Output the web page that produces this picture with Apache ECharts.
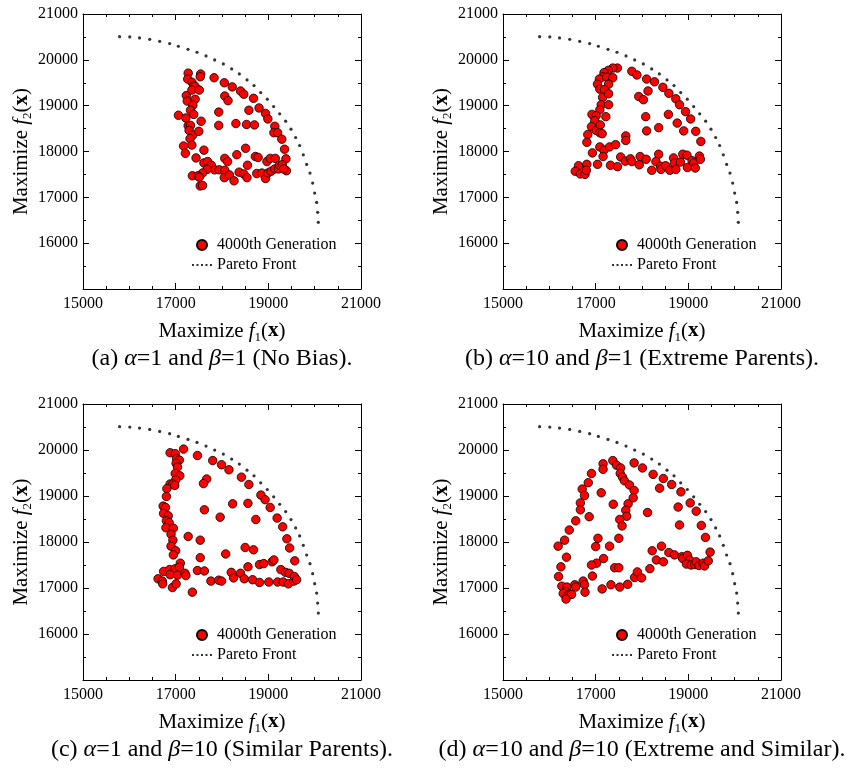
<!DOCTYPE html>
<html>
<head>
<meta charset="utf-8">
<script src="https://cdn.jsdelivr.net/npm/echarts@6/dist/echarts.min.js"></script>
<style>
  html, body { margin: 0; padding: 0; background: #fff; }
  #chart { width: 863px; height: 770px; }
</style>
</head>
<body>
<div id="chart"></div>
<script type="text/javascript">
// Pareto front (same in all four panels)
var paretoFront = [
  [15790,20506],[16010,20499],[16220,20477],[16440,20448],[16655,20404],[16870,20354],
  [17058,20296],[17266,20230],[17460,20165],[17655,20085],[17842,19998],[18029,19911],
  [18209,19802],[18374,19693],[18540,19562],[18691,19439],[18835,19286],[18978,19141],
  [19115,18981],[19245,18821],[19374,18662],[19489,18487],[19590,18306],[19676,18131],
  [19755,17928],[19827,17717],[19899,17529],[19957,17311],[20000,17093],[20043,16890],
  [20065,16672],[20079,16454]
];

// (a) alpha=1, beta=1
var genA = [
  [17270,19710],[17540,19690],[17530,19630],[17260,19580],[17350,19510],[17390,19440],[17420,19420],
  [17830,19610],[18050,19500],[18220,19410],[18400,19320],[18470,19250],[18680,19160],[18060,19210],
  [18130,19110],[17230,19220],[17250,19100],[17420,19140],[17370,19010],[17350,19340],[17510,19340],
  [17320,18900],[17060,18790],[17220,18730],[17390,18810],[17550,18660],[17930,18860],[18580,18900],
  [18800,18950],[18940,18830],[18990,18710],[17270,18560],[17320,18570],[17290,18460],[17370,18360],
  [17500,18440],[17930,18570],[18300,18610],[18530,18590],[18700,18580],[19140,18550],[19120,18410],
  [19200,18410],[19290,18270],[17310,18280],[17350,18140],[17170,18120],[17210,17960],[17610,18030],
  [17440,17860],[18320,17930],[18510,18070],[18550,17700],[18060,17850],[18120,17780],[18720,17890],
  [18780,17870],[18970,17780],[19040,17850],[19150,17850],[19350,18050],[19380,17840],[17610,17750],
  [17690,17780],[17770,17700],[17840,17600],[17680,17610],[17580,17530],[17940,17600],[18060,17590],
  [17360,17470],[17480,17470],[17510,17440],[18050,17430],[18160,17490],[18260,17360],[18370,17550],
  [18470,17510],[18540,17430],[18750,17520],[18860,17530],[18940,17410],[18990,17530],[19060,17570],
  [19140,17620],[19220,17620],[19240,17700],[19300,17710],[19390,17580],[19330,17620],[17530,17250],
  [17580,17260]
];

// (b) alpha=10, beta=1
var genB = [
  [17470,19820],[17370,19820],[17270,19770],[17250,19690],[17180,19720],[17160,19630],[17080,19580],
  [17040,19470],[17240,19620],[17370,19610],[17280,19470],[17090,19360],[17190,19350],[17150,19180],
  [17280,19260],[17120,19020],[17280,19020],[17090,18910],[17220,18760],[16920,18810],[17010,18780],
  [16980,18670],[16910,18540],[17010,18460],[17100,18580],[17090,18410],[17140,18390],[16830,18370],
  [16810,18200],[17090,18100],[17180,18030],[16930,17970],[17160,17890],[17300,18100],[17430,18150],
  [17650,18340],[17650,18240],[17780,19750],[17890,19670],[18100,19580],[18270,19520],[18450,19400],
  [18580,19270],[18730,19150],[18810,19020],[18940,18870],[19050,18710],[19160,18440],[19270,18220],
  [18130,19320],[17930,19200],[18030,19130],[18080,18760],[18100,18450],[18360,18520],[18570,18810],
  [18760,18620],[18900,18450],[17540,17880],[17640,17790],[17750,17840],[17780,17780],[17960,17890],
  [17940,17710],[18090,17830],[18360,17940],[18300,17780],[18210,17590],[18400,17680],[18410,17610],
  [18510,17690],[18600,17590],[18680,17860],[18700,17750],[18730,17610],[18830,17770],[18880,17940],
  [18970,17920],[18980,17650],[19080,17800],[19120,17750],[19150,17640],[19240,17900],[19260,17830],
  [17320,17700],[17470,17670],[17040,17720],[16810,17720],[16630,17690],[16560,17570],[16670,17510],
  [16770,17500],[16800,17590]
];

// (c) alpha=1, beta=10
var genC = [
  [16880,19940],[16990,19920],[17170,20020],[17020,19810],[17080,19780],[17010,19710],[17040,19630],
  [16990,19490],[17090,19440],[17000,19350],[16880,19260],[16940,19260],[16980,19230],[16810,19160],
  [16800,18990],[16730,18780],[16780,18750],[16740,18620],[16840,18570],[16800,18460],[16860,18420],
  [16790,18310],[16950,18300],[16900,18170],[16940,18040],[16900,17910],[17000,17810],[16950,17720],
  [17100,17540],[16740,17360],[16870,17400],[16990,17420],[17080,17450],[16880,17290],[17040,17280],
  [17200,17320],[17220,17270],[16620,17200],[16710,17150],[16720,17090],[16930,17010],[17010,17090],
  [17360,16910],[17270,18120],[17470,19880],[17800,19770],[17990,19680],[18150,19570],[18420,19410],
  [18580,19250],[17670,19370],[17600,19270],[17620,18700],[18230,18830],[18560,18840],[17960,18540],
  [18730,18490],[18840,19020],[18930,18920],[19040,18750],[19190,18520],[19310,18330],[19400,18070],
  [19460,17870],[19570,17590],[17530,18040],[17530,17660],[18080,17740],[18500,17880],[18680,17830],
  [17470,17380],[17620,17370],[17760,17150],[17930,17170],[17990,17150],[18200,17340],[18250,17220],
  [18400,17320],[18480,17200],[18560,17460],[18660,17180],[18810,17120],[18810,17510],[18900,17530],
  [19010,17130],[19080,17570],[19120,17610],[19200,17130],[19270,17400],[19320,17130],[19370,17340],
  [19430,17090],[19450,17320],[19550,17150],[19560,17250],[19610,17180]
];

// (d) alpha=10, beta=10
var genD = [
  [17370,19770],[17160,19700],[17160,19580],[17450,19670],[17540,19610],[17530,19490],[17580,19410],
  [17620,19330],[17730,19240],[17830,19720],[18010,19610],[18240,19470],[18460,19380],[18640,19250],
  [18380,19170],[18840,19090],[16910,19490],[16840,19290],[16710,19150],[16760,19010],[17120,19070],
  [17830,19120],[17810,18960],[17380,18820],[17700,18830],[17650,18690],[17670,18560],[16670,18850],
  [16670,18700],[17520,18490],[17570,18350],[18120,18640],[19040,18850],[19170,18670],[18780,18760],
  [19280,18360],[18810,18370],[19370,18100],[19470,17780],[16570,18460],[16860,18550],[16430,18260],
  [16330,18040],[16190,17910],[16370,17670],[16250,17460],[16200,17250],[17050,18080],[17000,17900],
  [17500,18080],[17300,17910],[17170,17640],[17020,17540],[16910,17500],[17410,17440],[17500,17440],
  [16930,17260],[16730,17150],[16760,17070],[16770,16910],[16550,17070],[16570,17020],[16270,17040],
  [16380,17020],[16360,16920],[16440,16870],[16300,16880],[16390,16830],[16480,16860],[16360,16760],
  [17140,16980],[17330,17070],[17520,17020],[17690,17080],[17840,17230],[17900,17350],[17990,17220],
  [18170,17420],[18220,17810],[18310,17610],[18460,17570],[18420,17910],[18580,17770],[18700,17720],
  [18860,17680],[18880,17640],[18980,17710],[19030,17610],[18960,17520],[19060,17500],[19140,17510],
  [19170,17570],[19230,17490],[19320,17540],[19350,17480],[19430,17590]
];

var generations = [genA, genB, genC, genD];
var captions = [
  '(a) {i|α}=1 and {i|β}=1 (No Bias).',
  '(b) {i|α}=10 and {i|β}=1 (Extreme Parents).',
  '(c) {i|α}=1 and {i|β}=10 (Similar Parents).',
  '(d) {i|α}=10 and {i|β}=10 (Extreme and Similar).'
];

var FONT = 'Liberation Serif';
var grids = [
  {left: 83, top: 14, width: 278, height: 275},
  {left: 503, top: 14, width: 278, height: 275},
  {left: 83, top: 404, width: 278, height: 276},
  {left: 503, top: 404, width: 278, height: 276}
];

var nameRich = {
  t: {fontFamily: FONT, fontSize: 21, color: '#000', lineHeight: 26},
  i: {fontFamily: FONT, fontSize: 21, fontStyle: 'italic', color: '#000', lineHeight: 26},
  s: {fontFamily: FONT, fontSize: 13, color: '#000', lineHeight: 13, verticalAlign: 'bottom'},
  b: {fontFamily: FONT, fontSize: 21, fontWeight: 'bold', color: '#000', lineHeight: 26}
};

function plainNumber(v) { return String(v); }

function axisBase(i, pos, minorSplit) {
  return {
    gridIndex: i,
    type: 'value',
    position: pos,
    min: 15000,
    max: 21000,
    interval: pos === 'bottom' || pos === 'top' ? 2000 : 1000,
    axisLine: {show: true, onZero: false, lineStyle: {color: '#000', width: 1}},
    axisTick: {show: true, inside: true, length: 6, lineStyle: {color: '#000'}},
    minorTick: {show: true, splitNumber: minorSplit, length: 3, lineStyle: {color: '#000'}},
    splitLine: {show: false},
    axisLabel: {show: false}
  };
}

var xAxes = [], yAxes = [], series = [], legends = [], texts = [];
for (var i = 0; i < 4; i++) {
  var xb = axisBase(i, 'bottom', 4);
  xb.axisLabel = {show: true, margin: 7, formatter: plainNumber, fontFamily: FONT, fontSize: 16, color: '#000'};
  xb.name = '{t|Maximize }{i|f}{s|1}{t|(}{b|x}{t|)}';
  xb.nameLocation = 'middle';
  xb.nameGap = 29;
  xb.nameTextStyle = {rich: nameRich};
  xAxes.push(xb, axisBase(i, 'top', 4));

  var yl = axisBase(i, 'left', 2);
  yl.axisLabel = {show: true, margin: 5, showMinLabel: false, formatter: plainNumber, fontFamily: FONT, fontSize: 16, color: '#000'};
  yl.name = '{t|Maximize }{i|f}{s|2}{t|(}{b|x}{t|)}';
  yl.nameLocation = 'middle';
  yl.nameGap = 48;
  yl.nameTextStyle = {rich: nameRich};
  yAxes.push(yl, axisBase(i, 'right', 2));

  series.push({
    name: 'Pareto Front',
    type: 'scatter',
    xAxisIndex: 2 * i,
    yAxisIndex: 2 * i,
    symbol: 'circle',
    symbolSize: 3.2,
    symbolKeepAspect: true,
    itemStyle: {color: '#000'},
    data: paretoFront
  }, {
    name: '4000th Generation',
    type: 'scatter',
    xAxisIndex: 2 * i,
    yAxisIndex: 2 * i,
    symbol: 'circle',
    symbolSize: 8.5,
    itemStyle: {color: '#ff0000', borderColor: '#000', borderWidth: 0.8, opacity: 1},
    data: generations[i]
  });

  legends.push({
    left: grids[i].left + 109,
    top: grids[i].top + 223,
    orient: 'vertical',
    padding: 0,
    itemWidth: 20,
    itemHeight: 10,
    itemGap: 4,
    selectedMode: false,
    textStyle: {fontFamily: FONT, fontSize: 16, color: '#000'},
    data: [
      {name: '4000th Generation', icon: 'circle'},
      {name: 'Pareto Front', icon: 'path://M0,0L0,0M20,10L20,10M0,4h2v2h-2zM4.5,4h2v2h-2zM9,4h2v2h-2zM13.5,4h2v2h-2zM18,4h2v2h-2z'}
    ]
  });

  texts.push({
    type: 'text',
    x: grids[i].left + grids[i].width / 2,
    y: grids[i].top + grids[i].height + 70,
    style: {
      text: captions[i],
      align: 'center',
      verticalAlign: 'middle',
      fontFamily: FONT,
      fontSize: 24,
      fill: '#000',
      rich: {i: {fontFamily: FONT, fontSize: 24, fontStyle: 'italic', fill: '#000'}}
    }
  });
}

var chart = echarts.init(document.getElementById('chart'));
chart.setOption({
  animation: false,
  backgroundColor: '#fff',
  grid: grids,
  xAxis: xAxes,
  yAxis: yAxes,
  legend: legends,
  graphic: texts,
  series: series
});
</script>
</body>
</html>
